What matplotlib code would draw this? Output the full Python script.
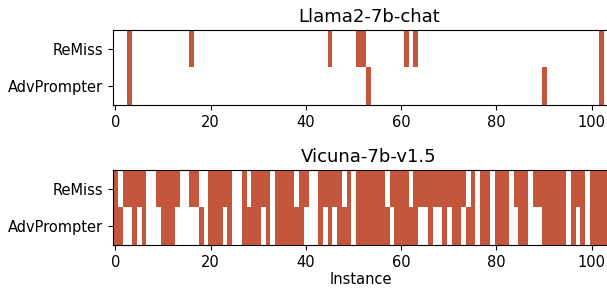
import numpy as np
import matplotlib.pyplot as plt
from matplotlib.colors import ListedColormap

n_inst = 104
methods = ["ReMiss", "AdvPrompter"]
titles = ["Llama2-7b-chat", "Vicuna-7b-v1.5"]
xticks = [0, 20, 40, 60, 80, 100]

# successful instances (index) per model / method
llama_remiss = [3, 16, 45, 51, 52, 61, 63, 102]
llama_adv = [3, 53, 90, 102]
vicuna_remiss = [0, 2, 3, 4, 5, 6, 9, 10, 11, 12, 13, 16, 17, 20, 21, 22, 23, 24,
                 27, 29, 30, 31, 32, 34, 35, 36, 37, 39, 40, 43, 44, 45, 46, 47,
                 49, 51, 52, 53, 54, 55, 56, 58, 59, 60, 61, 63, 64, 65, 66, 67,
                 68, 69, 70, 71, 72, 73, 75, 77, 78, 80, 81, 82, 84, 85, 86, 88,
                 89, 90, 91, 92, 93, 94, 96, 97, 98, 100, 101, 102, 103]
vicuna_adv = [0, 1, 4, 6, 10, 11, 12, 18, 20, 21, 22, 24, 27, 28, 29, 30, 32, 34,
              35, 36, 37, 38, 39, 43, 45, 47, 48, 49, 51, 52, 53, 54, 55, 56, 57,
              59, 60, 61, 62, 63, 66, 69, 71, 72, 74, 75, 77, 78, 80, 81, 82, 85,
              86, 90, 91, 92, 93, 94, 96, 98, 100, 101, 102, 103]

color = "#c4563c"
cmap = ListedColormap(["white", color])


def to_grid(a, b):
    g = np.zeros((2, n_inst))
    g[0, a] = 1
    g[1, b] = 1
    return g


grids = [to_grid(llama_remiss, llama_adv), to_grid(vicuna_remiss, vicuna_adv)]

W, H = 607, 288
fig = plt.figure(figsize=(W / 100, H / 100), dpi=100)
boxes = [[113 / W, 1 - 105 / H, 495.4 / W, 75 / H],
         [113 / W, 1 - 245 / H, 495.4 / W, 75 / H]]

for box, grid, title in zip(boxes, grids, titles):
    ax = fig.add_axes(box)
    ax.imshow(grid, cmap=cmap, vmin=0, vmax=1, aspect="auto", interpolation="nearest")
    ax.set_yticks([0, 1])
    ax.set_yticklabels(methods, fontsize=10.5)
    ax.set_xticks(xticks)
    ax.tick_params(axis="x", labelsize=10.5)
    ax.set_title(title, fontsize=13, x=0.517)

ax.set_xlabel("Instance", fontsize=10.5, labelpad=2)

fig.savefig("out.png", dpi=100)
